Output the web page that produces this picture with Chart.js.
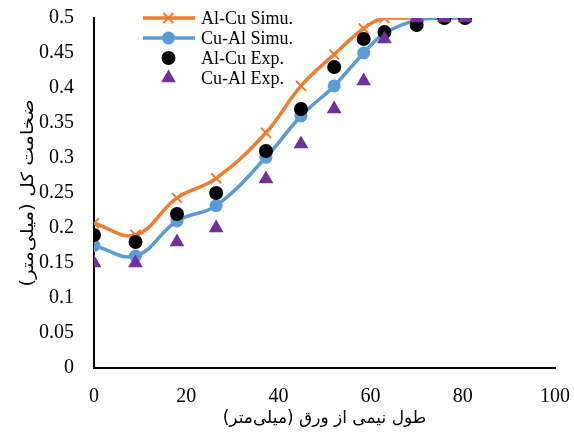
<!DOCTYPE html>
<html>
<head>
<meta charset="utf-8">
<script src="https://cdn.jsdelivr.net/npm/chart.js@4.4.1/dist/chart.umd.min.js"></script>
<style>
  html, body { margin: 0; padding: 0; background: #fff; }
  #wrap { width: 574px; height: 435px; }
</style>
</head>
<body>
<div id="wrap"><canvas id="thickness" width="574" height="435"></canvas></div>
<script>
// distance along the sheet (mm)
const positions = [0, 9, 18, 26.5, 37.3, 44.9, 52.1, 58.5, 63, 70, 76, 80.5];

// total thickness (mm)
const alCuSimu = [0.207, 0.19, 0.243, 0.271, 0.336, 0.403, 0.448, 0.485, 0.5, 0.5, 0.5, 0.5];
const cuAlSimu = [0.175, 0.16, 0.21, 0.232, 0.301, 0.36, 0.403, 0.45, 0.478, 0.497, 0.5, 0.5];
const alCuExp = [0.19, 0.18, 0.22, 0.25, 0.31, 0.37, 0.43, 0.47, 0.48, 0.49, 0.5, 0.5];
const cuAlExp = [0.15, 0.15, 0.18, 0.2, 0.27, 0.32, 0.37, 0.41, 0.47, 0.5, 0.5, 0.5];

const seriesNames = ['Al-Cu Simu.', 'Cu-Al Simu.', 'Al-Cu Exp.', 'Cu-Al Exp.'];
const xTitle = 'طول نیمی از ورق (میلی\u200Cمتر)';
const yTitle = 'ضخامت کل (میلی\u200Cمتر)';

const pts = ys => positions.map((x, i) => ({x: x, y: ys[i]}));

const serif = "'Liberation Serif', 'DejaVu Serif', serif";
const arabic = "'DejaVu Sans', sans-serif";

// legend drawn inside the plot, line + marker like the spreadsheet style
const innerLegend = {
    id: 'innerLegend',
    afterDraw(chart) {
        const ctx = chart.ctx;
        const x0 = 143, x1 = 195, tx = 201;
        let y = 18;
        ctx.save();
        ctx.font = '18px ' + serif;
        ctx.textBaseline = 'middle';
        chart.data.datasets.forEach((ds, i) => {
            if (ds.showLine) {
                ctx.strokeStyle = ds.borderColor;
                ctx.lineWidth = ds.borderWidth;
                ctx.beginPath();
                ctx.moveTo(x0, y);
                ctx.lineTo(x1, y);
                ctx.stroke();
            }
            ctx.fillStyle = ds.backgroundColor;
            ctx.strokeStyle = ds.borderColor;
            ctx.lineWidth = ds.pointBorderWidth || 1;
            Chart.helpers.drawPoint(ctx, {
                pointStyle: ds.pointStyle,
                radius: ds.pointRadius,
                borderWidth: ds.pointBorderWidth,
                rotation: 0
            }, (x0 + x1) / 2 - 0.5, y);
            ctx.fillStyle = '#000';
            ctx.fillText(seriesNames[i], tx, y + 1);
            y += 20;
        });
        ctx.restore();
    }
};

// rotated y title, stretched a little along its length
const yTitlePlugin = {
    id: 'yTitlePlugin',
    afterDraw(chart) {
        const ctx = chart.ctx;
        const area = chart.chartArea;
        ctx.save();
        ctx.translate(29, (area.top + area.bottom) / 2);
        ctx.rotate(-Math.PI / 2);
        ctx.scale(1.18, 1);
        ctx.font = '17px ' + arabic;
        ctx.fillStyle = '#000';
        ctx.textAlign = 'center';
        ctx.textBaseline = 'middle';
        ctx.direction = 'rtl';
        ctx.fillText(yTitle, 0, 0);
        ctx.restore();
    }
};

const ctx = document.getElementById('thickness').getContext('2d');
const chart = new Chart(ctx, {
    type: 'scatter',
    data: {
        datasets: [
            {
                label: seriesNames[0],
                data: pts(alCuSimu),
                showLine: true,
                tension: 0.4,
                borderColor: '#ED7D31',
                backgroundColor: '#ED7D31',
                borderWidth: 3.5,
                pointStyle: 'crossRot',
                pointRadius: 7,
                pointBorderWidth: 2,
                pointBorderColor: '#ED7D31',
                order: 4
            },
            {
                label: seriesNames[1],
                data: pts(cuAlSimu),
                showLine: true,
                tension: 0.4,
                borderColor: '#5B9BD5',
                backgroundColor: '#5B9BD5',
                borderWidth: 3.5,
                pointStyle: 'circle',
                pointRadius: 6.5,
                pointBorderWidth: 0,
                pointBackgroundColor: '#5B9BD5',
                order: 3
            },
            {
                label: seriesNames[2],
                data: pts(alCuExp),
                showLine: false,
                borderColor: '#000',
                backgroundColor: '#000',
                pointStyle: 'circle',
                pointRadius: 7,
                pointBorderWidth: 0,
                order: 2
            },
            {
                label: seriesNames[3],
                data: pts(cuAlExp),
                showLine: false,
                borderColor: '#7030A0',
                backgroundColor: '#7030A0',
                pointStyle: 'triangle',
                pointRadius: 8.5,
                pointBorderWidth: 0,
                order: 1
            }
        ]
    },
    options: {
        responsive: false,
        animation: false,
        layout: { padding: { top: 18, right: 19, left: 0, bottom: 0 } },
        plugins: {
            legend: { display: false },
            tooltip: { enabled: false }
        },
        scales: {
            x: {
                type: 'linear',
                min: 0,
                max: 100,
                ticks: {
                    stepSize: 20,
                    color: '#000',
                    padding: 17,
                    font: { family: serif, size: 20 }
                },
                grid: { display: false, drawTicks: false },
                border: { display: true, color: '#000', width: 2 },
                title: {
                    display: true,
                    text: xTitle,
                    color: '#000',
                    font: { family: arabic, size: 17 },
                    padding: { top: 0, bottom: 6 }
                },
                afterFit(scale) {
                    scale.height = 67;
                    scale.paddingLeft = 0;
                    scale.paddingRight = 0;
                }
            },
            y: {
                min: 0,
                max: 0.5,
                ticks: {
                    stepSize: 0.05,
                    color: '#000',
                    padding: 20,
                    font: { family: serif, size: 20 },
                    callback: v => String(Math.round(v * 100) / 100)
                },
                grid: { display: false, drawTicks: false },
                border: { display: true, color: '#000', width: 2 },
                title: { display: false },
                afterFit(scale) {
                    scale.width = 94;
                    scale.paddingTop = 0;
                    scale.paddingBottom = 0;
                }
            }
        }
    },
    plugins: [innerLegend, yTitlePlugin]
});
</script>
</body>
</html>
